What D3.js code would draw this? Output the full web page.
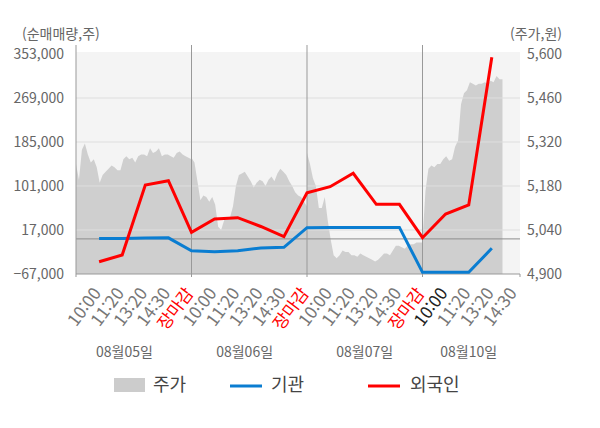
<!DOCTYPE html>
<html lang="ko">
<head>
<meta charset="utf-8">
<script src="https://cdn.jsdelivr.net/npm/d3@7"></script>
<style>
  body { margin: 0; background: #fff; }
  text { font-family: "Noto Sans CJK KR", "Noto Sans", sans-serif; }
</style>
</head>
<body>
<div id="chart"></div>
<script>
// x slots: 1..19 (5 per day, last day partial)
const tickLabels = ['10:00','11:20','13:20','14:30','장마감',
                    '10:00','11:20','13:20','14:30','장마감',
                    '10:00','11:20','13:20','14:30','장마감',
                    '10:00','11:20','13:20','14:30'];
const dayLabels = ['08월05일','08월06일','08월07일','08월10일'];
const dayLabelSlot = [2.1, 7.3, 12.5, 17.0];

// net buy volume (shares), one value per slot 1..18
const foreign     = [-43500, -30700, 103000, 111200, 12600, 38000, 40500, 23700, 4300,
                     88200, 99700, 125200, 66000, 66000, 2300, 47500, 64700, 346700];
const institution = [1000, 1000, 1500, 2000, -22500, -24400, -22500, -17400, -16000,
                     21400, 22000, 22000, 22000, 22000, -63800, -63800, -63800, -18000];

// intraday price, 10-minute samples per day
const price1 = [5250,5200,5295,5315,5280,5255,5265,5240,5190,5215,5225,5235,5245,5240,5230,5230,
                5265,5275,5265,5270,5255,5275,5280,5280,5275,5300,5285,5290,5300,5275,5280,5280,
                5275,5270,5285,5290,5280,5275,5270,5265];
const price2 = [5270,5255,5195,5135,5150,5145,5130,5145,5120,5050,5040,5070,5080,5080,5115,5180,
                5215,5220,5225,5210,5195,5175,5190,5200,5195,5180,5200,5210,5195,5220,5235,5225,
                5215,5195,5180,5160,5150,5145,5130,5115];
const price3 = [5285,5250,5205,5180,5110,5110,5145,5070,5010,4960,4950,4960,4975,4970,4970,4960,
                4960,4955,4965,4960,4955,4950,4945,4940,4945,4955,4965,4965,4960,4975,4990,4990,
                4985,4980,4990,4995,4995,5000,5000,5000];
const price4 = [5010,5165,5235,5245,5240,5250,5250,5265,5275,5260,5265,5305,5325,5440,5475,5485,
                5510,5505,5500,5505,5505,5510,5505,5515,5510,5530,5520,5520];

const volTicks = [-67000, 17000, 101000, 185000, 269000, 353000];
const priceTicks = [4900, 5040, 5180, 5320, 5460, 5600];

const width = 600, height = 428;
const plotLeft = 76, plotRight = 520, plotTop = 54, plotBottom = 274;

const svg = d3.select("#chart").append("svg")
    .attr("width", width)
    .attr("height", height);

const x = d3.scaleLinear().domain([0, 19.22]).range([plotLeft, plotRight]);
const yVol = d3.scaleLinear().domain([-67000, 353000]).range([plotBottom, plotTop]);
const yPrice = d3.scaleLinear().domain([4900, 5600]).range([plotBottom, plotTop]);

// plot background
svg.append("rect")
    .attr("x", plotLeft).attr("y", plotTop - 2)
    .attr("width", plotRight - plotLeft).attr("height", plotBottom - plotTop + 2)
    .attr("fill", "#f4f4f4");

// price area
const priceData = [];
[price1, price2, price3, price4].forEach((arr, d) => {
    arr.forEach((p, i) => priceData.push({k: d * 5 + i * 5 / 39, p: p}));
});
const area = d3.area()
    .x(d => x(d.k))
    .y0(plotBottom)
    .y1(d => yPrice(d.p));
svg.append("path")
    .datum(priceData)
    .attr("d", area)
    .attr("fill", "#cfcfcf");

// horizontal gridlines
svg.append("g")
    .selectAll("line")
    .data(volTicks.slice(1, -1))
    .enter().append("line")
    .attr("x1", plotLeft).attr("x2", plotRight)
    .attr("y1", d => yVol(d)).attr("y2", d => yVol(d))
    .attr("stroke", "#dedede")
    .attr("stroke-width", 1);

// zero line
svg.append("line")
    .attr("x1", plotLeft).attr("x2", plotRight)
    .attr("y1", yVol(0)).attr("y2", yVol(0))
    .attr("stroke", "#8c8c8c");

// day dividers
svg.append("g")
    .selectAll("line")
    .data([0, 5, 10, 15])
    .enter().append("line")
    .attr("x1", d => x(d)).attr("x2", d => x(d))
    .attr("y1", 45).attr("y2", plotBottom + 3)
    .attr("stroke", "#999");

// bottom axis line + right tick
svg.append("line")
    .attr("x1", plotLeft).attr("x2", plotRight)
    .attr("y1", plotBottom).attr("y2", plotBottom)
    .attr("stroke", "#999");
svg.append("line")
    .attr("x1", plotRight).attr("x2", plotRight)
    .attr("y1", plotBottom).attr("y2", plotBottom + 3)
    .attr("stroke", "#999");

// lines
const line = d3.line()
    .x((d, i) => x(i + 1))
    .y(d => yVol(d));
svg.append("path")
    .datum(institution)
    .attr("d", line)
    .attr("fill", "none")
    .attr("stroke", "#0a7dd1")
    .attr("stroke-width", 3);
svg.append("path")
    .datum(foreign)
    .attr("d", line)
    .attr("fill", "none")
    .attr("stroke", "#ff0000")
    .attr("stroke-width", 3);

// left axis labels
svg.append("g")
    .selectAll("text")
    .data(volTicks)
    .enter().append("text")
    .attr("x", 64)
    .attr("y", d => yVol(d))
    .attr("dy", "0.35em")
    .attr("text-anchor", "end")
    .attr("font-size", 14)
    .attr("fill", "#666")
    .text(d => d3.format(",")(d));

// right axis labels
svg.append("g")
    .selectAll("text")
    .data(priceTicks)
    .enter().append("text")
    .attr("x", 527)
    .attr("y", d => yPrice(d))
    .attr("dy", "0.35em")
    .attr("font-size", 14)
    .attr("fill", "#666")
    .text(d => d3.format(",")(d));

svg.append("text")
    .attr("x", 22).attr("y", 34).attr("dy", "0.35em")
    .attr("font-size", 14).attr("fill", "#666")
    .text("(순매매량,주)");
svg.append("text")
    .attr("x", 510).attr("y", 34).attr("dy", "0.35em")
    .attr("font-size", 14).attr("fill", "#666")
    .text("(주가,원)");

// x tick labels
svg.append("g")
    .selectAll("text")
    .data(tickLabels)
    .enter().append("text")
    .attr("transform", (d, i) => `translate(${x(i + 1) - 2},290) rotate(-53)`)
    .attr("dy", "0.35em")
    .attr("text-anchor", "end")
    .attr("font-size", 17)
    .attr("fill", (d, i) => d === '장마감' ? "#ff0000" : (i === 15 ? "#222" : "#777"))
    .text(d => d);

// day labels
svg.append("g")
    .selectAll("text")
    .data(dayLabels)
    .enter().append("text")
    .attr("x", (d, i) => x(dayLabelSlot[i]))
    .attr("y", 352)
    .attr("dy", "0.35em")
    .attr("text-anchor", "middle")
    .attr("font-size", 14)
    .attr("fill", "#666")
    .text(d => d);

// legend
const legend = svg.append("g");
legend.append("rect")
    .attr("x", 114).attr("y", 378).attr("width", 31).attr("height", 14)
    .attr("fill", "#cccccc");
legend.append("text")
    .attr("x", 153).attr("y", 385).attr("dy", "0.35em")
    .attr("font-size", 18).attr("fill", "#444")
    .text("주가");
legend.append("line")
    .attr("x1", 230).attr("x2", 262).attr("y1", 386).attr("y2", 386)
    .attr("stroke", "#0a7dd1").attr("stroke-width", 3);
legend.append("text")
    .attr("x", 271).attr("y", 385).attr("dy", "0.35em")
    .attr("font-size", 18).attr("fill", "#444")
    .text("기관");
legend.append("line")
    .attr("x1", 368).attr("x2", 400).attr("y1", 386).attr("y2", 386)
    .attr("stroke", "#ff0000").attr("stroke-width", 3);
legend.append("text")
    .attr("x", 410).attr("y", 385).attr("dy", "0.35em")
    .attr("font-size", 18).attr("fill", "#444")
    .text("외국인");
</script>
</body>
</html>
